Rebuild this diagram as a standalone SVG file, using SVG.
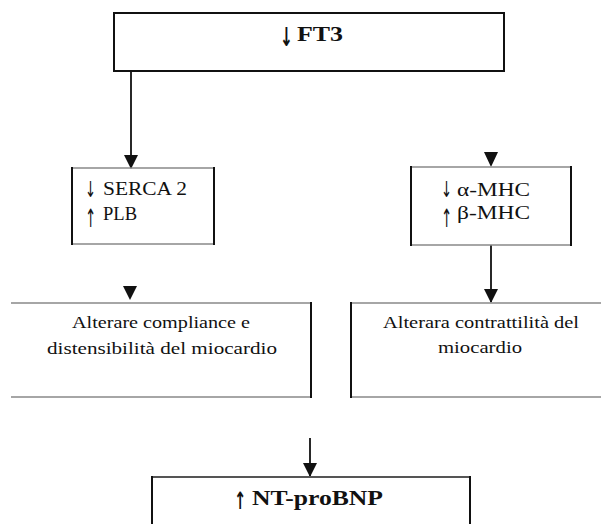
<svg xmlns="http://www.w3.org/2000/svg" width="601" height="524" viewBox="0 0 601 524">
<style>
.t{font-family:"Liberation Serif","Times New Roman",serif;fill:#111;}
.ar{font-family:"DejaVu Sans",sans-serif;fill:#111;}
.b{font-weight:bold;}
.dk{stroke:#111;stroke-width:2;fill:none;}
.lt{stroke:#888;stroke-width:1.5;fill:none;}
.cn{stroke:#111;stroke-width:1.8;fill:none;}
</style>
<defs>
<marker id="ah" markerWidth="14" markerHeight="14" refX="7" refY="13" orient="0" markerUnits="userSpaceOnUse" viewBox="0 0 14 14">
<path d="M0,0 L14,0 L7,14 Z" fill="#111"/>
</marker>
</defs>
<rect width="601" height="524" fill="#fff"/>
<g id="connectors">
<line class="cn" x1="131" y1="71" x2="131" y2="168" marker-end="url(#ah)"/>
<path d="M484,152 L498,152 L491,167 Z" fill="#111"/>
<path d="M123,286 L137,286 L130,300 Z" fill="#111"/>
<line class="cn" x1="491" y1="245" x2="491" y2="302" marker-end="url(#ah)"/>
<line class="cn" x1="310" y1="438" x2="310" y2="476" marker-end="url(#ah)"/>
</g>
<g id="ft3">
<rect x="114" y="13" width="390" height="58" class="dk"/>
<text class="ar b" x="280" y="46" font-size="26" transform="translate(280,46) scale(0.6,1) translate(-280,-46)">↓</text>
<text class="t b" x="297" y="41" font-size="22" textLength="46" lengthAdjust="spacingAndGlyphs">FT3</text>
</g>
<g id="serca">
<line class="lt" x1="72" y1="168" x2="214" y2="168"/>
<line class="lt" x1="72" y1="244" x2="214" y2="244"/>
<line class="dk" x1="72" y1="167" x2="72" y2="245"/>
<line class="dk" x1="214" y1="167" x2="214" y2="245"/>
<text class="ar" x="85" y="197" font-size="22" transform="translate(85,197) scale(0.6,1) translate(-85,-197)">↓</text>
<text class="ar" x="85" y="227" font-size="22" transform="translate(85,227) scale(0.6,1.15) translate(-85,-227)">↑</text>
<text class="t" x="103" y="195" font-size="19" textLength="84" lengthAdjust="spacingAndGlyphs">SERCA 2</text>
<text class="t" x="103" y="220" font-size="19" textLength="34" lengthAdjust="spacingAndGlyphs">PLB</text>
</g>
<g id="mhc">
<line class="lt" x1="411" y1="167" x2="571" y2="167"/>
<line class="lt" x1="411" y1="245" x2="571" y2="245"/>
<line class="dk" x1="411" y1="166" x2="411" y2="246"/>
<line class="dk" x1="571" y1="166" x2="571" y2="246"/>
<text class="ar" x="441" y="197" font-size="22" transform="translate(441,197) scale(0.6,1) translate(-441,-197)">↓</text>
<text class="ar" x="441" y="227" font-size="22" transform="translate(441,227) scale(0.6,1.15) translate(-441,-227)">↑</text>
<text class="t" x="457" y="196" font-size="19" textLength="73" lengthAdjust="spacingAndGlyphs">α-MHC</text>
<text class="t" x="457" y="219" font-size="19" textLength="73" lengthAdjust="spacingAndGlyphs">β-MHC</text>
</g>
<g id="compliance">
<line class="lt" x1="11" y1="303" x2="311" y2="303"/>
<line class="lt" x1="11" y1="397" x2="311" y2="397"/>
<line class="dk" x1="311" y1="302" x2="311" y2="398"/>
<text class="t" x="161" y="328" font-size="16" text-anchor="middle" textLength="178" lengthAdjust="spacingAndGlyphs">Alterare compliance e</text>
<text class="t" x="162" y="354" font-size="16" text-anchor="middle" textLength="230" lengthAdjust="spacingAndGlyphs">distensibilità del miocardio</text>
</g>
<g id="contrattilita">
<line class="lt" x1="351" y1="303" x2="601" y2="303"/>
<line class="lt" x1="351" y1="397" x2="601" y2="397"/>
<line class="dk" x1="351" y1="302" x2="351" y2="398"/>
<text class="t" x="481" y="328" font-size="16" text-anchor="middle" textLength="196" lengthAdjust="spacingAndGlyphs">Alterara contrattilità del</text>
<text class="t" x="480" y="353" font-size="16" text-anchor="middle" textLength="84" lengthAdjust="spacingAndGlyphs">miocardio</text>
</g>
<g id="ntprobnp">
<line x1="152" y1="477" x2="470" y2="477" stroke="#555" stroke-width="2"/>
<line class="dk" x1="152" y1="476" x2="152" y2="524"/>
<line class="dk" x1="470" y1="476" x2="470" y2="524"/>
<text class="ar b" x="234" y="509" font-size="24" transform="translate(234,509) scale(0.6,1) translate(-234,-509)">↑</text>
<text class="t b" x="252" y="505" font-size="20" textLength="131" lengthAdjust="spacingAndGlyphs">NT-proBNP</text>
</g>
</svg>
